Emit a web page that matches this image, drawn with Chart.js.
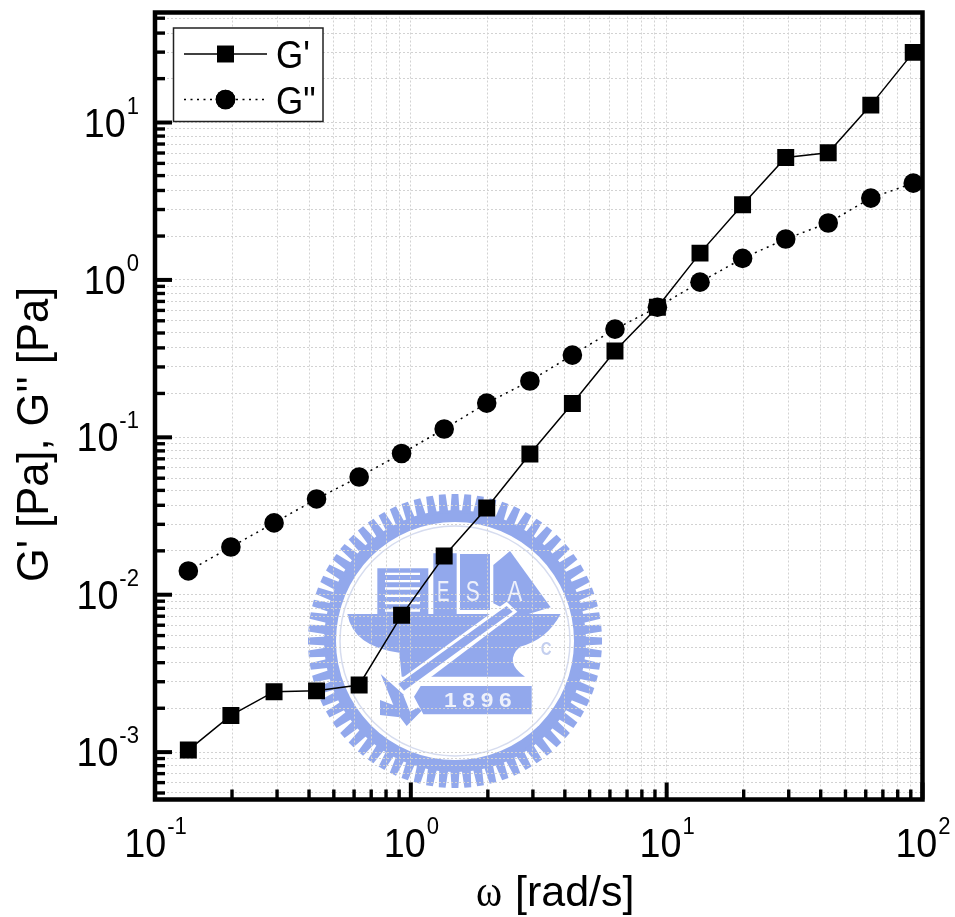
<!DOCTYPE html>
<html>
<head>
<meta charset="utf-8">
<title>G' G''</title>
<script src="https://cdn.jsdelivr.net/npm/chart.js@4/dist/chart.umd.min.js"></script>
<style>
    html, body { margin: 0; padding: 0; background: #fff; }
    canvas { display: block; }
</style>
</head>
<body>
<canvas id="grafico" width="955" height="917"></canvas>
<script>
const omega = [0.135, 0.198, 0.292, 0.428, 0.628, 0.92, 1.35, 1.98, 2.92, 4.28, 6.28, 9.2, 13.5, 19.8, 29.2, 42.8, 62.8, 92];
const gStorage = [0.00103, 0.00171, 0.00242, 0.00245, 0.00267, 0.0074, 0.0176, 0.0356, 0.0783, 0.164, 0.353, 0.671, 1.48, 3.0, 6.0, 6.43, 12.9, 27.9];
const gLoss = [0.01416, 0.0201, 0.0286, 0.0406, 0.056, 0.0789, 0.113, 0.165, 0.228, 0.333, 0.487, 0.671, 0.968, 1.37, 1.82, 2.30, 3.31, 4.12];

const xExponents = [-1, 0, 1, 2];
const yExponents = [-4, -3, -2, -1, 0, 1];
const xMinorSteps = [2, 3, 4, 5, 6, 7, 8, 9];
const yMinorSteps = [1.9, 2.8, 3.7, 4.6, 5.5, 6.4, 7.3, 8.2, 9.1];

const sans = '"Liberation Sans", Arial, sans-serif';
const serif = '"Liberation Serif", "Times New Roman", serif';

function decadeTicks(axis, exponents, steps) {
    const ticks = [];
    exponents.forEach(e => {
        const base = Math.pow(10, e);
        if (base >= axis.min && base <= axis.max) ticks.push({ value: base, major: true });
        steps.forEach(s => {
            const v = s * base;
            if (v > axis.min && v < axis.max) ticks.push({ value: v, major: false });
        });
    });
    axis.ticks = ticks;
}

// texto comprimido na horizontal, a figura original esta um pouco espremida
function squeezedText(ctx, txt, x, y, font, squeeze) {
    ctx.save();
    ctx.font = font;
    ctx.translate(x, y);
    ctx.scale(squeeze, 1);
    ctx.fillText(txt, 0, 0);
    ctx.restore();
}

// 10 + expoente, como o Origin escreve
function powerLabel(ctx, exponent, x, y, align) {
    const txt = String(exponent);
    const squeeze = 0.92;
    const big = '41px ' + sans;
    const small = '24px ' + sans;
    ctx.fillStyle = '#000';
    ctx.textBaseline = 'alphabetic';
    ctx.textAlign = 'left';
    ctx.font = big;
    const w10 = ctx.measureText('10').width * squeeze;
    ctx.font = small;
    const wExp = ctx.measureText(txt).width * squeeze;
    const left = align === 'center' ? x - (w10 + wExp) / 2 : x - w10 - wExp;
    squeezedText(ctx, '10', left, y, big, squeeze);
    squeezedText(ctx, txt, left + w10 + 1, y - 23, small, squeeze);
}

// marca d'agua azul atras do grafico
function drawSeal(ctx) {
    const blue = '#92a8ec';
    const cx = 455, cy = 641;
    ctx.save();
    ctx.filter = 'blur(0.7px)';
    ctx.save();
    ctx.translate(cx, cy);
    ctx.fillStyle = blue;
    ctx.beginPath();
    ctx.arc(0, 0, 131, 0, Math.PI * 2);
    ctx.fill();
    for (let i = 0; i < 72; i++) {
        ctx.save();
        ctx.rotate(i * Math.PI * 2 / 72);
        ctx.beginPath();
        ctx.moveTo(-3.4, -147);
        ctx.lineTo(3.4, -147);
        ctx.lineTo(4.6, -128);
        ctx.lineTo(-4.6, -128);
        ctx.closePath();
        ctx.fill();
        ctx.restore();
    }
    ctx.fillStyle = '#fff';
    ctx.beginPath();
    ctx.arc(0, 0, 119, 0, Math.PI * 2);
    ctx.fill();
    ctx.strokeStyle = '#d6dcef';
    ctx.lineWidth = 1.5;
    ctx.beginPath();
    ctx.arc(0, 0, 115, 0, Math.PI * 2);
    ctx.stroke();
    ctx.restore();

    // desenho interno em coordenadas do zoom (3x a partir de 290,470)
    ctx.save();
    ctx.translate(290, 470);
    ctx.scale(1 / 3, 1 / 3);
    const poly = (pts, color) => {
        ctx.fillStyle = color;
        ctx.beginPath();
        pts.forEach((p, i) => i ? ctx.lineTo(p[0], p[1]) : ctx.moveTo(p[0], p[1]));
        ctx.closePath();
        ctx.fill();
    };
    // casco
    ctx.fillStyle = blue;
    ctx.beginPath();
    ctx.moveTo(172, 432);
    ctx.lineTo(812, 432);
    ctx.quadraticCurveTo(770, 510, 690, 530);
    ctx.quadraticCurveTo(640, 575, 705, 620);
    ctx.lineTo(430, 620);
    ctx.lineTo(335, 620);
    ctx.lineTo(328, 548);
    ctx.quadraticCurveTo(190, 530, 172, 432);
    ctx.fill();
    // predios e livros
    poly([[262, 295], [415, 295], [415, 432], [262, 432]], blue);
    for (let y = 308; y < 420; y += 22) poly([[285, y], [390, y], [390, y + 7], [285, y + 7]], '#fff');
    poly([[430, 250], [500, 250], [500, 432], [430, 432]], blue);
    poly([[510, 252], [600, 252], [600, 420], [510, 420]], blue);
    poly([[610, 285], [660, 243], [782, 412], [690, 440], [610, 400]], blue);
    // faixa branca e martelo
    poly([[650, 395], [682, 425], [345, 680], [315, 640]], '#fff');
    poly([[650, 408], [668, 425], [342, 662], [325, 642]], blue);
    poly([[272, 612], [395, 722], [350, 768], [330, 742], [270, 735], [270, 690], [310, 705]], blue);
    poly([[340, 675], [365, 665], [385, 712], [360, 725]], '#fff');
    // placa 1896
    poly([[392, 648], [725, 648], [725, 733], [400, 733], [372, 680]], blue);
    ctx.fillStyle = '#eef1fb';
    ctx.textAlign = 'left';
    ctx.textBaseline = 'alphabetic';
    ['1', '8', '9', '6'].forEach((c, i) => squeezedText(ctx, c, 462 + i * 55, 710, 'bold 62px ' + sans, 1.1));
    const letter = '90px ' + sans;
    squeezedText(ctx, 'E', 441, 394, letter, 0.62);
    squeezedText(ctx, 'S', 527, 394, letter, 0.7);
    squeezedText(ctx, 'A', 652, 392, letter, 0.75);
    ctx.fillStyle = '#c4cfef';
    squeezedText(ctx, 'C', 752, 556, 'bold 56px ' + sans, 0.8);
    ctx.restore();
    ctx.restore();
}

const artePlugin = {
    id: 'arte',
    beforeDraw(chart) {
        const ctx = chart.ctx;
        ctx.save();
        ctx.fillStyle = '#fff';
        ctx.fillRect(0, 0, chart.width, chart.height);
        ctx.restore();
        drawSeal(ctx);
    },
    afterDraw(chart) {
        const ctx = chart.ctx;
        const area = chart.chartArea;
        const xs = chart.scales.x;
        const ys = chart.scales.y;
        ctx.save();

        // ticks para dentro
        ctx.strokeStyle = '#000';
        ctx.lineCap = 'butt';
        xs.ticks.forEach(t => {
            const p = xs.getPixelForValue(t.value);
            ctx.lineWidth = t.major ? 4 : 3.4;
            ctx.beginPath();
            ctx.moveTo(p, area.bottom);
            ctx.lineTo(p, area.bottom - (t.major ? 17 : 10));
            ctx.stroke();
        });
        ys.ticks.forEach(t => {
            const p = ys.getPixelForValue(t.value);
            ctx.lineWidth = t.major ? 4 : 3.4;
            ctx.beginPath();
            ctx.moveTo(area.left, p);
            ctx.lineTo(area.left + (t.major ? 17 : 10), p);
            ctx.stroke();
        });

        ctx.lineWidth = 4.5;
        ctx.strokeRect(area.left, area.top, area.right - area.left, area.bottom - area.top);

        // rotulos
        xExponents.forEach(e => powerLabel(ctx, e, xs.getPixelForValue(Math.pow(10, e)), 857, 'center'));
        yExponents.filter(e => Math.pow(10, e) >= ys.min).forEach(e => {
            powerLabel(ctx, e, 138, ys.getPixelForValue(Math.pow(10, e)) + 14, 'right');
        });

        // titulo do eixo x, omega em fonte serifada
        ctx.fillStyle = '#000';
        ctx.textAlign = 'left';
        ctx.textBaseline = 'alphabetic';
        squeezedText(ctx, 'ω', 476, 906, '44px ' + serif, 0.9);
        squeezedText(ctx, '[rad/s]', 515, 906, '43px ' + sans, 1);

        // titulo do eixo y
        ctx.save();
        ctx.translate(48, 582);
        ctx.rotate(-Math.PI / 2);
        squeezedText(ctx, "G' [Pa], G'' [Pa]", 0, 0, '45px ' + sans, 0.965);
        ctx.restore();

        // legenda
        ctx.fillStyle = '#fff';
        ctx.fillRect(173.5, 28, 149.5, 93.5);
        ctx.strokeStyle = '#222';
        ctx.lineWidth = 1.5;
        ctx.strokeRect(173.5, 28, 149.5, 93.5);
        chart.data.datasets.forEach((ds, i) => {
            const y = i === 0 ? 54 : 99.5;
            ctx.strokeStyle = '#000';
            ctx.lineWidth = ds.borderWidth;
            ctx.setLineDash(ds.borderDash || []);
            ctx.beginPath();
            ctx.moveTo(184, y);
            ctx.lineTo(267, y);
            ctx.stroke();
            ctx.setLineDash([]);
            Chart.helpers.drawPoint(ctx, { pointStyle: ds.pointStyle, radius: ds.pointRadius, rotation: 0, borderWidth: 0 }, 225.5, y);
            ctx.fillStyle = '#000';
            ctx.fill();
            ctx.textBaseline = 'alphabetic';
            squeezedText(ctx, ds.label, 276, y + 14, '38px ' + sans, 0.92);
        });
        ctx.restore();
    }
};

const toPoints = values => values.map((v, i) => ({ x: omega[i], y: v }));

const gridStyle = {
    drawTicks: false,
    color: '#d2d2d2',
    lineWidth: 1
};
const gridBorder = { display: false, dash: [2, 2] };

new Chart(document.getElementById('grafico').getContext('2d'), {
    type: 'scatter',
    data: {
        datasets: [
            {
                label: "G'",
                data: toPoints(gStorage),
                showLine: true,
                borderColor: '#000',
                backgroundColor: '#000',
                borderWidth: 1.5,
                pointStyle: 'rect',
                pointRadius: 12,
                pointBorderWidth: 0,
                tension: 0
            },
            {
                label: 'G"',
                data: toPoints(gLoss),
                showLine: true,
                borderColor: '#000',
                backgroundColor: '#000',
                borderWidth: 1.5,
                borderDash: [2, 4.5],
                pointStyle: 'circle',
                pointRadius: 9.8,
                pointBorderWidth: 0,
                tension: 0
            }
        ]
    },
    options: {
        responsive: false,
        animation: false,
        layout: { padding: { left: 0, top: 12.5, right: 32.5, bottom: 0 } },
        plugins: {
            legend: { display: false },
            tooltip: { enabled: false }
        },
        scales: {
            x: {
                type: 'logarithmic',
                min: 0.1,
                max: 100,
                grid: gridStyle,
                border: gridBorder,
                ticks: { display: false, autoSkip: false },
                afterBuildTicks: axis => decadeTicks(axis, xExponents, xMinorSteps),
                afterFit: axis => { axis.height = 117.5; }
            },
            y: {
                type: 'logarithmic',
                min: 0.0005,
                max: 50,
                grid: gridStyle,
                border: gridBorder,
                ticks: { display: false, autoSkip: false },
                afterBuildTicks: axis => decadeTicks(axis, yExponents, yMinorSteps),
                afterFit: axis => { axis.width = 155; }
            }
        }
    },
    plugins: [artePlugin]
});
</script>
</body>
</html>
